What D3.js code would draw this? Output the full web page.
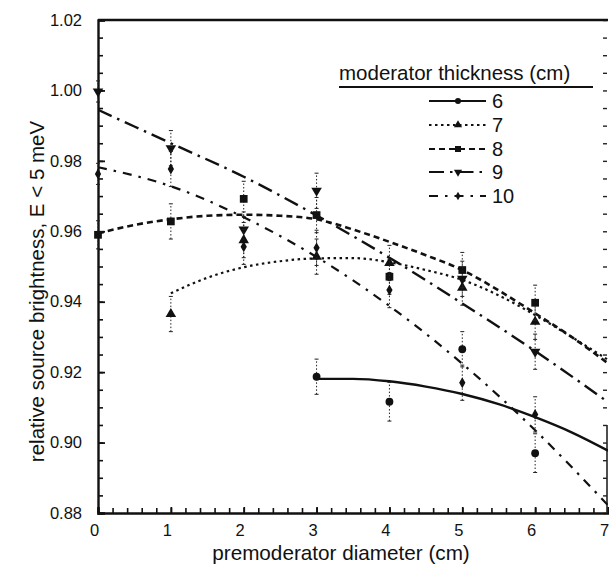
<!DOCTYPE html>
<html>
<head>
<meta charset="utf-8">
<script src="https://cdn.jsdelivr.net/npm/d3@7"></script>
<style>
  body { margin: 0; background: #fff; }
  svg { display: block; }
  text { font-family: "Liberation Sans", Arial, sans-serif; fill: #111; }
</style>
</head>
<body>
<svg id="chart" width="609" height="571"></svg>
<script>
// Relative source brightness (E < 5 meV) vs premoderator diameter, per moderator thickness
const thicknesses = ["6", "7", "8", "9", "10"];

// measured points (x in cm, y relative brightness, e = error half-width)
const x6 = [3, 4, 5, 6];
const y6 = [0.9187, 0.9116, 0.9265, 0.8970];
const e6 = [0.005, 0.0055, 0.005, 0.0055];

const x7 = [1, 2, 3, 4, 5, 6];
const y7 = [0.9365, 0.9575, 0.9528, 0.9510, 0.9440, 0.9343];
const e7 = [0.005, 0.005, 0.005, 0.005, 0.005, 0.005];

const x8 = [0, 1, 2, 3, 4, 5, 6];
const y8 = [0.9590, 0.9628, 0.9692, 0.9646, 0.9471, 0.9490, 0.9397];
const e8 = [0.004, 0.005, 0.005, 0.005, 0.005, 0.005, 0.005];

const x9 = [0, 1, 2, 3, 5, 6];
const y9 = [0.9997, 0.9836, 0.9605, 0.9715, 0.9465, 0.9258];
const e9 = [0.003, 0.005, 0.005, 0.005, 0.005, 0.005];

const x10 = [0, 1, 2, 3, 4, 5, 6];
const y10 = [0.9763, 0.9777, 0.9556, 0.9553, 0.9433, 0.9170, 0.9080];
const e10 = [0.003, 0.005, 0.005, 0.005, 0.005, 0.005, 0.005];

// fitted trend curves
const fx6 = [3, 3.5, 4, 4.5, 5, 5.5, 6, 6.5, 7];
const fy6 = [0.9181, 0.9181, 0.9174, 0.9159, 0.9138, 0.9109, 0.9072, 0.9029, 0.8977];
const fx7 = [1, 1.5, 2, 2.5, 3, 3.5, 4, 4.5, 5, 5.5, 6, 6.5, 7];
const fy7 = [0.9424, 0.9468, 0.9498, 0.9515, 0.9523, 0.9524, 0.9512, 0.9490, 0.9462, 0.9418, 0.9362, 0.9300, 0.9235];
const fx8 = [0, 0.5, 1, 1.5, 2, 2.5, 3, 3.5, 4, 4.5, 5, 5.5, 6, 6.5, 7];
const fy8 = [0.9594, 0.9618, 0.9634, 0.9644, 0.9647, 0.9644, 0.9634, 0.9605, 0.9570, 0.9532, 0.9490, 0.9432, 0.9367, 0.9300, 0.9225];
const fx9 = [0, 1, 2, 3, 4, 5, 6, 7];
const fy9 = [0.9945, 0.9850, 0.9755, 0.9645, 0.9525, 0.9395, 0.9260, 0.9115];
const fx10 = [0, 1, 2, 3, 4, 5, 6, 7];
const fy10 = [0.9782, 0.9728, 0.9640, 0.9527, 0.9388, 0.9224, 0.9035, 0.8822];

// tick labels
const xTicks = [0, 1, 2, 3, 4, 5, 6, 7];
const yTicks = [0.88, 0.90, 0.92, 0.94, 0.96, 0.98, 1.00, 1.02];

const series = [
  { name: thicknesses[0], x: x6, y: y6, e: e6, fx: fx6, fy: fy6, sym: "circle", dash: null, w: 2.4 },
  { name: thicknesses[1], x: x7, y: y7, e: e7, fx: fx7, fy: fy7, sym: "triUp", dash: "2.5,3.5", w: 2.2 },
  { name: thicknesses[2], x: x8, y: y8, e: e8, fx: fx8, fy: fy8, sym: "square", dash: "6,4", w: 2.6 },
  { name: thicknesses[3], x: x9, y: y9, e: e9, fx: fx9, fy: fy9, sym: "triDown", dash: "15,6,2.5,6", w: 2.4 },
  { name: thicknesses[4], x: x10, y: y10, e: e10, fx: fx10, fy: fy10, sym: "diamond", dash: "9,7,2.5,7", w: 2.2 }
];

const svg = d3.select("#chart");
const pLeft = 98, pRight = 608, pTop = 20, pBottom = 513;
const x = d3.scaleLinear().domain([0, 7]).range([pLeft, pRight]);
const y = d3.scaleLinear().domain([0.88, 1.02]).range([pBottom, pTop]);

svg.append("defs").append("clipPath").attr("id", "plotClip")
  .append("rect").attr("x", pLeft).attr("y", pTop).attr("width", pRight - pLeft).attr("height", pBottom - pTop);

// minor ticks
const yMinor = d3.range(0.88, 1.0201, 0.005);
const xMinor = d3.range(0, 7.001, 0.2);

svg.append("g").attr("transform", `translate(${pLeft},0)`)
  .call(d3.axisLeft(y).tickValues(yMinor).tickSize(-5).tickFormat(""))
  .call(g => g.select(".domain").remove())
  .call(g => g.selectAll("line").attr("stroke", "#111").attr("stroke-width", 1.6));

svg.append("g").attr("transform", `translate(${pRight - 1},0)`)
  .call(d3.axisRight(y).tickValues(yMinor).tickSize(-4).tickFormat(""))
  .call(g => g.select(".domain").remove())
  .call(g => g.selectAll("line").attr("stroke", "#222").attr("stroke-width", 1.4));

svg.append("g").attr("transform", `translate(0,${pBottom})`)
  .call(d3.axisBottom(x).tickValues(xMinor).tickSize(-5).tickFormat(""))
  .call(g => g.select(".domain").remove())
  .call(g => g.selectAll("line").attr("stroke", "#111").attr("stroke-width", 1.6));

// labelled axes
const yAxis = svg.append("g").attr("transform", `translate(${pLeft},0)`)
  .call(d3.axisLeft(y).tickValues(yTicks).tickSize(-7).tickPadding(16).tickFormat(d3.format(".2f")));
yAxis.select(".domain").attr("stroke", "#111").attr("stroke-width", 2.4);
yAxis.selectAll("line").attr("stroke", "#111").attr("stroke-width", 1.8);
yAxis.selectAll("text").attr("font-size", 16.5).attr("fill", "#111")
  .attr("font-family", "Liberation Sans, Arial, sans-serif");

const xAxis = svg.append("g").attr("transform", `translate(0,${pBottom})`)
  .call(d3.axisBottom(x).tickValues(xTicks).tickSize(-6).tickPadding(11).tickFormat(d3.format("d")));
xAxis.select(".domain").attr("stroke", "#111").attr("stroke-width", 2.4);
xAxis.selectAll("line").attr("stroke", "#111").attr("stroke-width", 1.8);
xAxis.selectAll("text").attr("font-size", 16.5).attr("fill", "#111").attr("dx", -4)
  .attr("font-family", "Liberation Sans, Arial, sans-serif");

// top frame
svg.append("line").attr("x1", pLeft).attr("x2", pRight).attr("y1", pTop).attr("y2", pTop)
  .attr("stroke", "#111").attr("stroke-width", 2.6);
svg.append("line").attr("x1", pRight - 1).attr("x2", pRight - 1).attr("y1", y(0.905)).attr("y2", pBottom)
  .attr("stroke", "#222").attr("stroke-width", 1.6);

// axis titles
svg.append("text").attr("x", 341).attr("y", 560)
  .attr("text-anchor", "middle").attr("font-size", 20.7).text("premoderator diameter (cm)");
svg.append("text").attr("transform", `translate(44,${(pTop + pBottom) / 2 + 25}) rotate(-90)`)
  .attr("text-anchor", "middle").attr("font-size", 20.5).text("relative source brightness, E < 5 meV");

// marker shapes
function marker(sel, kind, scale) {
  const s = scale || 1;
  if (kind === "circle") return sel.append("path").attr("d", d3.symbol(d3.symbolCircle, 48 * s)());
  if (kind === "square") return sel.append("path").attr("d", d3.symbol(d3.symbolSquare, 60 * s)());
  if (kind === "triUp") return sel.append("path").attr("d", d3.symbol(d3.symbolTriangle, 48 * s)());
  if (kind === "triDown") return sel.append("path").attr("d", d3.symbol(d3.symbolTriangle, 48 * s)()).attr("transform", "rotate(180)");
  if (kind === "diamond") return sel.append("path").attr("d", d3.symbol(d3.symbolDiamond, 34 * s)());
}

const plot = svg.append("g").attr("clip-path", "url(#plotClip)");
const lineGen = d3.line().x(d => x(d[0])).y(d => y(d[1])).curve(d3.curveMonotoneX);

// fitted curves
series.forEach(s => {
  plot.append("path")
    .datum(s.fx.map((v, i) => [v, s.fy[i]]))
    .attr("d", lineGen)
    .attr("fill", "none").attr("stroke", "#111").attr("stroke-width", s.w)
    .attr("stroke-dasharray", s.dash);
});

// error bars and markers
const pts = svg.append("g");
series.forEach(s => {
  s.x.forEach((xv, i) => {
    const cx = x(xv), y1 = y(s.y[i] - s.e[i]), y2 = y(s.y[i] + s.e[i]);
    pts.append("line").attr("x1", cx).attr("x2", cx).attr("y1", y1).attr("y2", y2)
      .attr("stroke", "#222").attr("stroke-width", 1).attr("stroke-dasharray", "1.5,2");
    [y1, y2].forEach(yy => pts.append("line").attr("x1", cx - 2).attr("x2", cx + 2)
      .attr("y1", yy).attr("y2", yy).attr("stroke", "#222").attr("stroke-width", 1));
    const g = pts.append("g").attr("transform", `translate(${cx},${y(s.y[i])})`);
    marker(g, s.sym).attr("fill", "#111");
  });
});

// legend
const lg = svg.append("g");
lg.append("text").attr("x", 339).attr("y", 80).attr("font-size", 20.5).text("moderator thickness (cm)");
lg.append("line").attr("x1", 339).attr("x2", 593).attr("y1", 87).attr("y2", 87)
  .attr("stroke", "#111").attr("stroke-width", 2);
const legY = [101, 125, 149, 172, 196];
series.forEach((s, i) => {
  const ly = legY[i];
  lg.append("line").attr("x1", 429).attr("x2", 486).attr("y1", ly).attr("y2", ly)
    .attr("stroke", "#111").attr("stroke-width", Math.min(s.w, 2))
    .attr("stroke-dasharray", s.dash);
  const g = lg.append("g").attr("transform", `translate(458,${ly})`);
  marker(g, s.sym, 0.6).attr("fill", "#111");
  lg.append("text").attr("x", 492).attr("y", ly + 7).attr("font-size", 20).text(s.name);
});
</script>
</body>
</html>
